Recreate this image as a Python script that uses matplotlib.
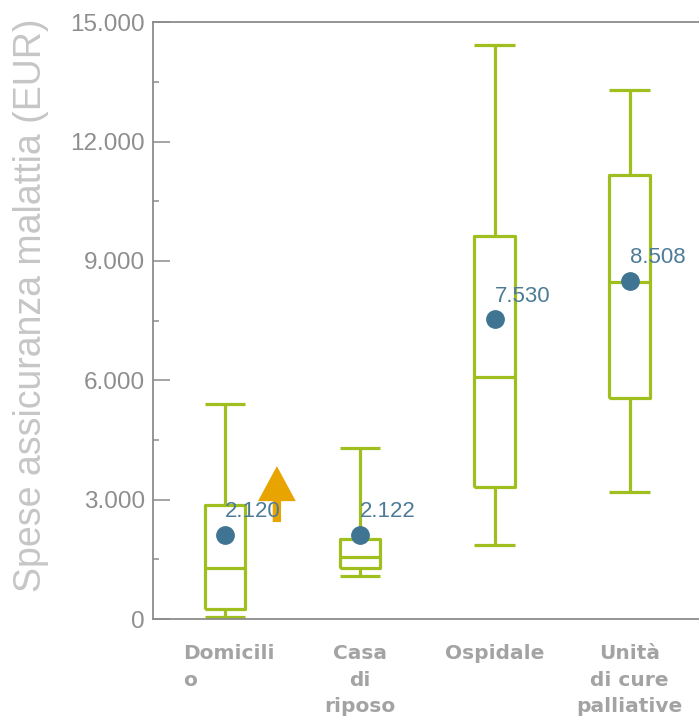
import matplotlib
matplotlib.use("Agg")
import matplotlib.pyplot as plt
from matplotlib.ticker import MultipleLocator, FuncFormatter

# Spending per place of death (EUR): box statistics and means
categories = ["Domicili\no", "Casa\ndi\nriposo", "Ospidale", "Unità\ndi cure\npalliative"]
label_align = ["left", "center", "center", "center"]
whisker_low = [50, 1080, 1860, 3190]
q1 = [250, 1280, 3320, 5550]
median = [1280, 1560, 6080, 8470]
q3 = [2860, 2010, 9620, 11160]
whisker_high = [5400, 4300, 14420, 13300]
means = [2120, 2122, 7530, 8508]
mean_labels = ["2.120", "2.122", "7.530", "8.508"]
y_ticks = [0, 3000, 6000, 9000, 12000, 15000]

GREEN = "#9ebf1e"
BLUE = "#3f7592"
LABEL_BLUE = "#4d7b97"
GREY = "#8c8c8c"

fig = plt.figure(figsize=(6.99, 7.25), dpi=100)
ax = fig.add_axes([0.219, 0.146, 0.781, 0.8234])

stats = []
for i in range(len(categories)):
    stats.append(dict(whislo=whisker_low[i], q1=q1[i], med=median[i],
                      q3=q3[i], whishi=whisker_high[i], fliers=[]))

line = dict(color=GREEN, linewidth=2.3, solid_capstyle="butt")
ax.bxp(stats, positions=range(len(categories)), widths=0.3,
       showfliers=False, boxprops=line, whiskerprops=line, capprops=line,
       medianprops=line, capwidths=0.3)

x = list(range(len(categories)))
ax.plot(x, means, "o", color=BLUE, markersize=12.5, zorder=5)
for xi, m, lab in zip(x, means, mean_labels):
    ax.annotate(lab, (xi, m), xytext=(0, 16.5), textcoords="offset points",
                ha="left", va="center", color=LABEL_BLUE, fontsize=16,
                family="Liberation Sans", zorder=6)

# Orange marker arrow next to the first mean
ax.annotate("", xy=(0.385, 3845), xytext=(0.385, 2440),
            arrowprops=dict(arrowstyle="simple,head_length=1.26,head_width=1.36,tail_width=0.3",
                            color="#e8a400", lw=0, mutation_scale=20,
                            shrinkA=0, shrinkB=0))

ax.set_xlim(-0.533, 3.515)
ax.set_ylim(0, 15000)
ax.set_yticks(y_ticks)
ax.yaxis.set_minor_locator(MultipleLocator(1500))
ax.yaxis.set_major_formatter(FuncFormatter(lambda v, p: f"{int(v):,}".replace(",", ".")))
ax.tick_params(axis="y", which="major", direction="in", length=12, width=1.1,
               color=GREY, labelsize=17.5, labelcolor="#8e8e8e", pad=6)
ax.tick_params(axis="y", which="minor", direction="in", length=4.5, width=1.1, color=GREY)
for t in ax.get_yticklabels():
    t.set_family("Liberation Sans")

ax.set_xticks(x)
ax.set_xticklabels([])
ax.tick_params(axis="x", length=0)
for xi, cat, al in zip(x, categories, label_align):
    xpos = xi - 0.31 if al == "left" else xi
    ax.text(xpos, -0.042, cat, transform=ax.get_xaxis_transform(), ha=al,
            va="top", multialignment=al, fontsize=14.5, fontweight="bold",
            color="#a3a3a3", family="DejaVu Sans", linespacing=1.5)

ax.set_ylabel("Spese assicuranza malattia (EUR)", fontsize=27,
              color="#c6c6c6", family="Liberation Sans")
ax.yaxis.set_label_coords(-0.19, 0.526)

for s in ["left", "top", "bottom"]:
    ax.spines[s].set_color(GREY)
    ax.spines[s].set_linewidth(1.3)
ax.spines["right"].set_visible(False)

fig.savefig("out.png", dpi=100)
